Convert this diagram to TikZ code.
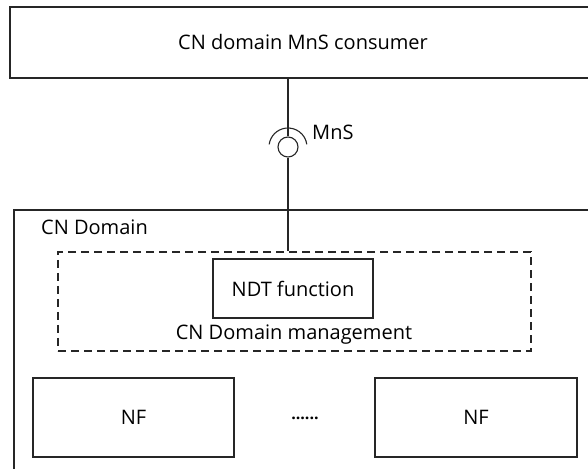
\documentclass[tikz,border=0pt]{standalone}
\usepackage{fontspec}
\setmainfont{Open Sans}
\begin{document}
\begin{tikzpicture}[x=1pt,y=1pt,
  box/.style={draw=black!85,line width=1.1pt,inner sep=0pt,font=\fontsize{20}{24}\selectfont},
  lbl/.style={inner sep=0pt,font=\fontsize{20}{24}\selectfont},
  dbox/.style={draw=black!85,line width=1.1pt,dash pattern=on 8pt off 5pt,inner sep=0pt},
  conn/.style={draw=black!85,line width=1.1pt}]
\useasboundingbox (0,0) rectangle (588,468);
\clip (0,0) rectangle (588,468);
\fill[white] (0,0) rectangle (588,468);
% top consumer box
\node[box,minimum width=586pt,minimum height=71pt] (consumer) at (303,425.5) {CN domain MnS consumer};
% CN domain box
\node[box,minimum width=586pt,minimum height=270pt] (domain) at (307,123) {};
\node[lbl,anchor=west] (domlbl) at (41,241) {CN Domain};
% management dashed box
\node[dbox,minimum width=473pt,minimum height=99pt] (mgmt) at (294.5,166.5) {};
\node[box,minimum width=160pt,minimum height=59pt] (ndt) at (293,179.5) {NDT function};
\node[lbl] (mgmtlbl) at (294,133) {CN Domain management};
% NFs
\node[box,minimum width=201pt,minimum height=79pt] (nf1) at (133.5,50.5) {NF};
\node[box,minimum width=202pt,minimum height=79pt] (nf2) at (476,50.5) {NF};
\node[lbl,font=\fontsize{16}{18}\selectfont\bfseries] (dots) at (305,50) {......};
% interface
\node[circle,draw=black!85,line width=1.1pt,minimum size=20pt,inner sep=0pt] (ifc) at (288,321) {};
\draw[conn] ([shift={(8:19pt)}]ifc.center) arc (8:172:19pt);
\node[lbl,anchor=west,text=black] (mns) at (312,336) {MnS};
\draw[conn] (ifc.north |- consumer.south) -- (ifc.north);
\draw[conn] (ifc.south) -- (ifc.south |- mgmt.north);
\end{tikzpicture}
\end{document}
